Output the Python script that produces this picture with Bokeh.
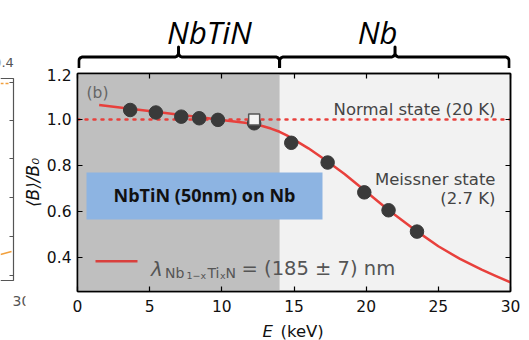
import numpy as np
from bokeh.plotting import figure
from bokeh.models import Range1d, FixedTicker, LinearAxis, Label, BoxAnnotation
from bokeh.layouts import column, row
from bokeh.embed import file_html
from bokeh.resources import INLINE

# ---------------- data ----------------
energy_kev = [3.65, 5.43, 7.19, 8.43, 9.73, 12.24, 14.81, 17.33, 19.87, 21.55, 23.52]
b_ratio = [1.041, 1.030, 1.012, 1.005, 0.998, 0.983, 0.898, 0.812, 0.682, 0.604, 0.511]
normal_energy = [12.24]
normal_b_ratio = [1.000]
fit_energy = [1.5, 3.65, 5.4, 7.2, 8.4, 9.7, 11.0, 11.6, 12.2, 12.8, 13.4, 14.0, 14.5, 15.0,
              16.0, 17.3, 18.5, 19.9, 21.5, 23.5, 25.0, 26.5, 28.0, 29.0, 30.0]
fit_b_ratio = [1.063, 1.046, 1.033, 1.019, 1.010, 1.000, 0.990, 0.985, 0.979, 0.971, 0.960,
               0.946, 0.930, 0.912, 0.874, 0.818, 0.762, 0.690, 0.607, 0.513, 0.447, 0.392,
               0.345, 0.317, 0.290]
normal_level = 1.0
region_names = ["NbTiN", "Nb"]
region_start = [0, 14]
region_end = [14, 30]
x_ticks = [0, 5, 10, 15, 20, 25, 30]
y_ticks = [0.4, 0.6, 0.8, 1.0, 1.2]
y_tick_labels = ["0.4", "0.6", "0.8", "1.0", "1.2"]
x_range_lim = (0, 30)
y_range_lim = (0.25, 1.2)

# fragment of the neighbouring panel (cropped at the left edge), page pixels
nb_top_label = "0.4"
nb_bottom_label = "30"
nb_dash_x = [0, 9]
nb_dash_y = [83, 83]
nb_solid_x = [0, 11]
nb_solid_y = [254, 251]
nb_right_ticks = [82, 120, 158, 197, 236, 275]

# ---------------- layout constants (page pixels) ----------------
PAGE_W, PAGE_H = 529, 340
LEFT_W = 42
W = PAGE_W - LEFT_W
FRAME_L, FRAME_R = 77, 510
FRAME_T, FRAME_B = 73, 291
TOP_H = 68
BOT_H = 21
MAIN_H = PAGE_H - TOP_H - BOT_H
BL = FRAME_L - LEFT_W
BR = PAGE_W - FRAME_R
BT = FRAME_T - TOP_H
BB = MAIN_H - BT - (FRAME_B - FRAME_T)
SX = (FRAME_R - FRAME_L) / (x_range_lim[1] - x_range_lim[0])
SY = (FRAME_B - FRAME_T) / (y_range_lim[1] - y_range_lim[0])


def xd(px):
    return x_range_lim[0] + (px - FRAME_L) / SX


def yd(py):
    return y_range_lim[1] - (py - FRAME_T) / SY


FONT = "DejaVu Sans"
RED = "#e8403c"

# ---------------- main figure ----------------
p = figure(width=W, height=MAIN_H, x_range=Range1d(*x_range_lim), y_range=Range1d(*y_range_lim),
           output_backend="svg", toolbar_location=None,
           min_border_left=BL, min_border_right=BR, min_border_top=BT, min_border_bottom=BB,
           background_fill_color="#f2f2f2", border_fill_color="white")
p.grid.visible = False
p.outline_line_color = "black"
p.outline_line_width = 1.5

p.quad(left=[region_start[0]], right=[region_end[0]], bottom=[y_range_lim[0]], top=[y_range_lim[1]],
       fill_color="#bfbfbf", line_color=None)
p.line(x=[x_range_lim[0], x_range_lim[1]], y=[normal_level, normal_level],
       line_color=RED, line_width=2.5, line_dash="2 6", line_cap="round")
p.line(x=fit_energy, y=fit_b_ratio, line_color=RED, line_width=2.5, line_join="round")
p.scatter(x=energy_kev, y=b_ratio, size=13.5, fill_color="#3a3a3a", line_color="#3a3a3a")
p.scatter(x=normal_energy, y=normal_b_ratio, marker="square", size=11,
          fill_color="#f4f4f4", line_color="#555555", line_width=1.5)

for ax in (p.xaxis[0], p.yaxis[0]):
    ax.major_tick_in = 5
    ax.major_tick_out = 0
    ax.minor_tick_line_color = None
    ax.axis_line_width = 1.5
    ax.major_tick_line_width = 1.2
    ax.major_label_text_font = FONT
    ax.major_label_text_font_size = "15.5px"
    ax.major_label_text_color = "#111111"
p.xaxis[0].major_label_standoff = 8
p.yaxis[0].major_label_standoff = 6
p.xaxis[0].ticker = FixedTicker(ticks=x_ticks)
p.yaxis[0].ticker = FixedTicker(ticks=y_ticks)
p.yaxis[0].major_label_overrides = {t: l for t, l in zip(y_ticks, y_tick_labels)}

for loc, tick_list in (("right", y_ticks), ("above", x_ticks)):
    ax = LinearAxis(ticker=FixedTicker(ticks=tick_list), major_tick_in=5, major_tick_out=0,
                    minor_tick_line_color=None, axis_line_width=1.5, major_tick_line_width=1.2,
                    major_label_text_font_size="0px", major_label_standoff=0,
                    major_label_text_alpha=0)
    p.add_layout(ax, loc)

p.add_layout(Label(x=xd(86), y=yd(92.5), text="(b)", text_font=FONT, text_font_size="15.5px",
                   text_color="#666666", text_baseline="alphabetic"))
for txt, py in (("Normal state (20 K)", 109), ("Meissner state", 178.5), ("(2.7 K)", 197.5)):
    p.add_layout(Label(x=xd(495), y=yd(py), text=txt, text_font=FONT,
                       text_font_size="16.5px", text_color="#444444", text_align="right",
                       text_baseline="alphabetic"))

p.add_layout(BoxAnnotation(left=xd(86), right=xd(322), top=yd(172), bottom=yd(219),
                           fill_color="#8db4e2", fill_alpha=1.0, line_color=None))
p.add_layout(Label(x=xd(204), y=yd(194), text="NbTiN (50nm) on Nb", text_font="Open Sans",
                   text_font_style="bold", text_font_size="18px", text_color="#111111",
                   text_align="center", text_baseline="middle"))

# manual legend entry
p.segment(x0=[xd(95)], y0=[yd(260.7)], x1=[xd(137)], y1=[yd(260.7)], line_color="#d9403d",
          line_width=2.5)
LEG = "#555555"
leg_parts = [
    ("\u03bb", 150.5, 268, "20px", "italic"),
    ("Nb", 164.5, 272, "14px", "normal"),
    ("1\u2212x", 186, 274.5, "9.5px", "normal"),
    ("Ti", 207, 272, "14px", "normal"),
    ("x", 219.5, 274.5, "9.5px", "normal"),
    ("N", 225, 272, "14px", "normal"),
    ("= (185 \u00b1 7) nm", 241, 268, "19.5px", "normal"),
]
for txt, px, py, fs, st in leg_parts:
    p.add_layout(Label(x=xd(px), y=yd(py), text=txt, text_font=FONT, text_font_size=fs,
                       text_font_style=st, text_color=LEG, text_baseline="alphabetic"))


def strip_figure(height):
    f = figure(width=W, height=height, x_range=Range1d(*x_range_lim), y_range=Range1d(0, height),
               output_backend="svg", toolbar_location=None,
               min_border_left=BL, min_border_right=BR, min_border_top=0, min_border_bottom=0,
               background_fill_color="white", border_fill_color="white")
    f.axis.visible = False
    f.grid.visible = False
    f.outline_line_color = None
    return f


# ---------------- top strip with braces ----------------
top = strip_figure(TOP_H)
Y_H, Y_END, Y_TIP = TOP_H - 56.5, TOP_H - 67, TOP_H - 46.5
inset = 1.3 / SX
r_px = 4.0
rx = r_px / SX
ang = np.linspace(0, np.pi / 2, 8)
xs, ys = [], []
for i, (a0, b0) in enumerate(zip(region_start, region_end)):
    a = a0 + (inset if i == 0 else 0)
    b = b0 - (inset if i == len(region_end) - 1 else 0)
    m = (a0 + b0) / 2
    bx, by = [a, a], [Y_END, Y_H - r_px]
    bx += list(a + rx - rx * np.cos(ang)); by += list(Y_H - r_px + r_px * np.sin(ang))
    bx += [m - rx]; by += [Y_H]
    bx += list(m - rx + rx * np.sin(ang)); by += list(Y_H + r_px - r_px * np.cos(ang))
    bx += [m, m]; by += [Y_TIP, Y_H + r_px]
    bx += list(m + rx - rx * np.cos(ang)); by += list(Y_H + r_px - r_px * np.sin(ang))
    bx += [b - rx]; by += [Y_H]
    bx += list(b - rx + rx * np.sin(ang)); by += list(Y_H - r_px + r_px * np.cos(ang))
    bx += [b]; by += [Y_END]
    xs.append(bx); ys.append(by)
top.multi_line(xs=xs, ys=ys, line_color="black", line_width=3, line_cap="round",
               line_join="round")
for name, px in zip(region_names, (209, 377)):
    top.add_layout(Label(x=xd(px), y=TOP_H - 31.5, text=name, text_font="Open Sans",
                         text_font_style="italic", text_font_size="31px", text_color="black",
                         text_align="center", text_baseline="alphabetic"))

# ---------------- bottom strip with x-axis title ----------------
bot = strip_figure(BOT_H)
bot.add_layout(Label(x=xd(262), y=PAGE_H - 331, text="E", text_font=FONT,
                     text_font_style="italic", text_font_size="16.5px", text_color="#111111",
                     text_baseline="alphabetic"))
bot.add_layout(Label(x=xd(280), y=PAGE_H - 331, text="(keV)", text_font=FONT,
                     text_font_size="16.5px", text_color="#111111", text_baseline="alphabetic"))

# ---------------- left strip: cropped neighbour panel + y-axis title ----------------
left = figure(width=LEFT_W, height=PAGE_H, x_range=Range1d(0, LEFT_W), y_range=Range1d(PAGE_H, 0),
              output_backend="svg", toolbar_location=None, min_border_left=0, min_border_right=0,
              min_border_top=0, min_border_bottom=0, background_fill_color="white",
              border_fill_color="white")
left.axis.visible = False
left.grid.visible = False
left.outline_line_color = None
NB_R, NB_T, NB_B = 13, 78, 280
left.line(x=[0, NB_R, NB_R, 0], y=[NB_T, NB_T, NB_B, NB_B], line_color="#555555", line_width=1.2)
left.segment(x0=[NB_R] * len(nb_right_ticks), y0=nb_right_ticks,
             x1=[NB_R - 4] * len(nb_right_ticks), y1=nb_right_ticks,
             line_color="#555555", line_width=1.2)
left.line(x=nb_dash_x, y=nb_dash_y, line_color="#f2a03c", line_width=1.5, line_dash="3 2")
left.line(x=nb_solid_x, y=nb_solid_y, line_color="#f2a03c", line_width=1.5)
left.add_layout(Label(x=3, y=62, text=nb_top_label, text_font=FONT, text_font_size="13px",
                      text_color="#555555", text_align="center", text_baseline="alphabetic"))
left.add_layout(Label(x=21, y=300, text=nb_bottom_label, text_font=FONT, text_font_size="14px",
                      text_color="#555555", text_align="center", text_baseline="alphabetic"))
# the neighbour panel is partly covered by this panel's white margin
left.add_layout(BoxAnnotation(left=25, right=LEFT_W, top=284, bottom=306, fill_color="white",
                              fill_alpha=1.0, line_color=None))
left.add_layout(Label(x=32, y=(FRAME_T + FRAME_B) / 2, angle=np.pi / 2, text="\u27e8B\u27e9/B\u2080",
                      text_font=FONT, text_font_style="italic", text_font_size="17px",
                      text_color="#111111", text_align="center", text_baseline="middle"))

layout = row(left, column(top, p, bot, spacing=0), spacing=0)
open("out.html", "w").write(file_html(layout, INLINE))
